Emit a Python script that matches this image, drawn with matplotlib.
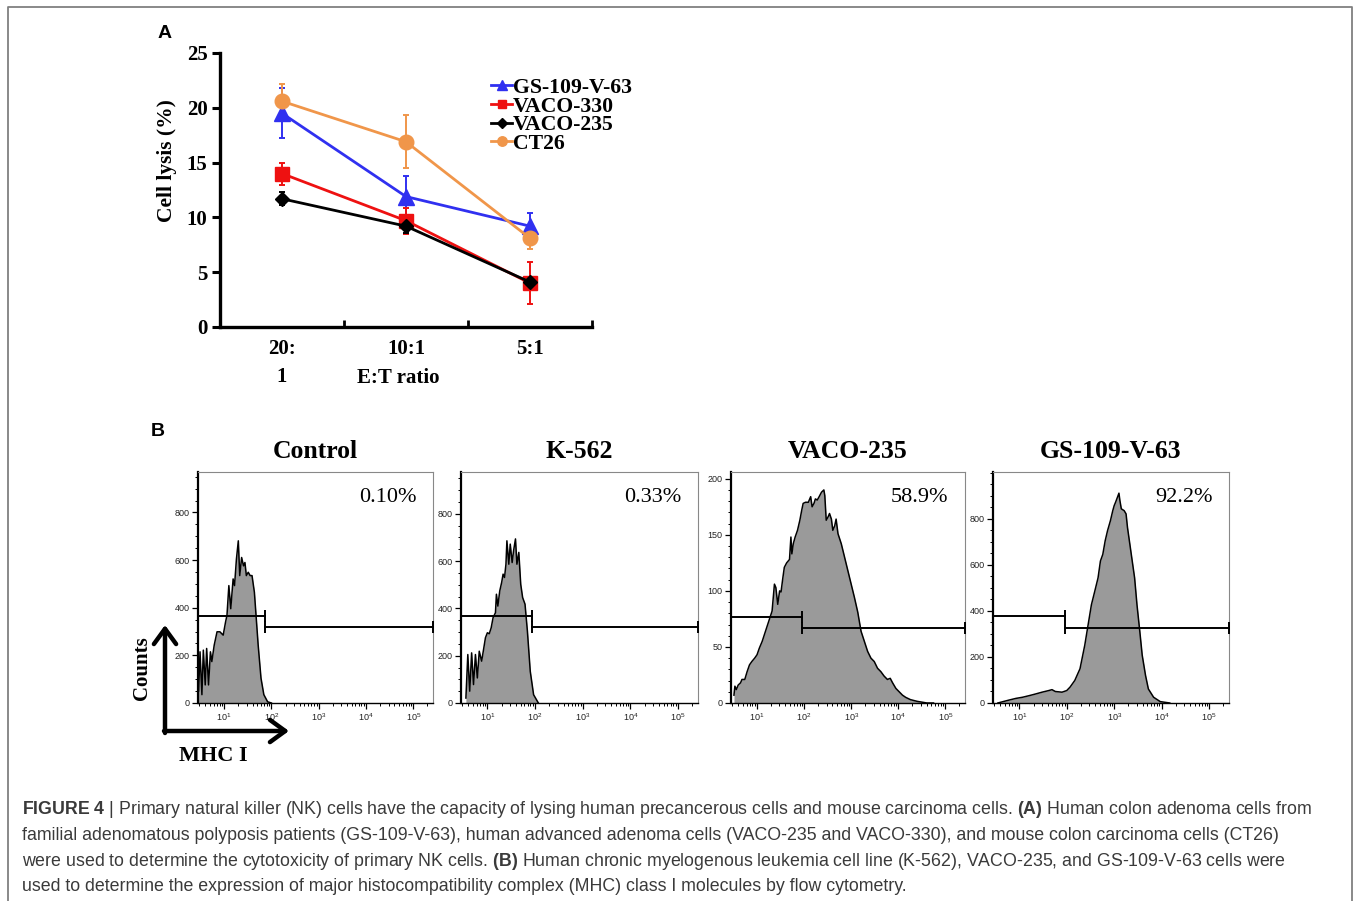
import matplotlib
matplotlib.use("Agg")
import matplotlib.pyplot as plt
import numpy as np
from matplotlib.ticker import FixedLocator, MultipleLocator, LogLocator, NullFormatter, FixedFormatter
from matplotlib.lines import Line2D
from matplotlib.patches import FancyArrowPatch

plt.rcParams['mathtext.fontset'] = 'custom'
plt.rcParams['mathtext.rm'] = 'Liberation Sans'
plt.rcParams['mathtext.bf'] = 'Liberation Sans:bold'
plt.rcParams['mathtext.it'] = 'Liberation Sans:italic'

SERIF = 'Liberation Serif'
SANS = 'Liberation Sans'

# ---------------- data: panel A ----------------
ratios = ['20:\n1', '10:1', '5:1']
series_names = ['GS-109-V-63', 'VACO-330', 'VACO-235', 'CT26']
gs_lysis = [19.5, 11.9, 9.2]
gs_err = [2.3, 1.9, 1.2]
vaco330_lysis = [14.0, 9.7, 4.0]
vaco330_err = [1.0, 1.2, 1.9]
vaco235_lysis = [11.7, 9.2, 4.1]
vaco235_err = [0.6, 0.6, 0.3]
ct26_lysis = [20.6, 16.9, 8.1]
ct26_err = [1.6, 2.4, 1.0]

# ---------------- data: panel B (log10 MHC I fluorescence, counts) ----------------
control_log = [0.38, 0.42, 0.46, 0.49, 0.53, 0.56, 0.60, 0.63, 0.67, 0.71, 0.74, 0.79, 0.85, 0.91,
               0.98, 1.03, 1.06, 1.10, 1.14, 1.19, 1.22, 1.26, 1.30, 1.33, 1.37, 1.41, 1.44, 1.47,
               1.51, 1.55, 1.59, 1.64, 1.67, 1.72, 1.78, 1.84, 1.92, 2.00]
control_counts = [21, 201, 49, 215, 35, 222, 76, 229, 76, 215, 174, 243, 299, 299,
                  285, 340, 368, 493, 396, 521, 493, 604, 681, 535, 611, 576, 590, 535,
                  549, 535, 535, 465, 382, 243, 104, 35, 5, 0]

k562_log = [0.55, 0.59, 0.63, 0.67, 0.71, 0.75, 0.79, 0.83, 0.88, 0.92, 0.96, 1.00, 1.04, 1.08,
            1.12, 1.17, 1.19, 1.22, 1.26, 1.30, 1.33, 1.36, 1.39, 1.41, 1.45, 1.48, 1.52, 1.55,
            1.59, 1.62, 1.66, 1.70, 1.74, 1.79, 1.84, 1.90, 1.97, 2.07]
k562_counts = [21, 205, 50, 212, 78, 205, 106, 219, 177, 226, 276, 297, 293, 318,
               361, 382, 460, 410, 474, 510, 545, 531, 587, 686, 587, 672, 594, 644,
               694, 587, 637, 502, 446, 418, 304, 134, 35, 0]

vaco_log = [0.51, 0.53, 0.56, 0.60, 0.65, 0.68, 0.74, 0.79, 0.84, 0.89, 0.95, 1.00, 1.05, 1.11,
            1.18, 1.25, 1.32, 1.37, 1.40, 1.44, 1.48, 1.51, 1.55, 1.58, 1.63, 1.67, 1.69, 1.72,
            1.74, 1.77, 1.81, 1.86, 1.91, 1.95, 1.98, 2.03, 2.09, 2.14, 2.17, 2.21, 2.24, 2.28,
            2.32, 2.37, 2.42, 2.44, 2.47, 2.51, 2.54, 2.58, 2.61, 2.65, 2.68, 2.72, 2.79, 2.86,
            2.93, 3.00, 3.07, 3.14, 3.21, 3.28, 3.35, 3.42, 3.49, 3.56, 3.63, 3.70, 3.77, 3.83,
            3.88, 3.95, 4.02, 4.09, 4.16, 4.26, 4.40, 4.61, 4.75]
vaco_counts = [7, 15, 12, 16, 18, 21, 21, 28, 34, 37, 40, 43, 49, 55,
               64, 73, 82, 106, 103, 88, 100, 99, 112, 121, 125, 127, 128, 148,
               133, 142, 148, 154, 163, 172, 178, 179, 179, 184, 175, 178, 182, 181,
               184, 188, 190, 185, 163, 166, 169, 164, 154, 158, 164, 151, 142, 130,
               118, 106, 94, 81, 64, 55, 46, 40, 37, 31, 28, 24, 21, 22,
               18, 13, 10, 7, 5, 3, 1.5, 0, 0]

gs_log = [0.55, 0.66, 0.79, 0.93, 1.07, 1.21, 1.34, 1.48, 1.62, 1.69, 1.76, 1.90, 2.00, 2.07,
          2.17, 2.28, 2.38, 2.45, 2.52, 2.59, 2.66, 2.71, 2.76, 2.81, 2.86, 2.92, 2.97, 3.00,
          3.03, 3.07, 3.10, 3.12, 3.15, 3.21, 3.25, 3.28, 3.33, 3.38, 3.43, 3.48, 3.54, 3.59,
          3.66, 3.72, 3.83, 3.97, 4.17]
gs_counts = [0, 6, 13, 20, 25, 32, 39, 47, 54, 58, 50, 47, 54, 69,
             98, 149, 251, 339, 427, 485, 544, 617, 646, 705, 749, 792, 836, 858,
             873, 895, 912, 880, 844, 836, 822, 763, 690, 617, 544, 427, 310, 208,
             120, 61, 25, 6, 0]

panel_titles = ['Control', 'K-562', 'VACO-235', 'GS-109-V-63']
percent_labels = ['0.10%', '0.33%', '58.9%', '92.2%']
gate_x = [74, 88, 90, 93]
gate_left_y = [367, 369, 77, 380]
gate_right_y = [320, 323, 67, 328]
y_tops = [970, 977, 206, 1004]
y_major = [200, 200, 50, 200]
y_minor = [50, 50, 10, 50]
y_tick_max = [800, 800, 200, 800]

caption_lines = [
    r"$\mathbf{FIGURE\ 4}$ | Primary natural killer (NK) cells have the capacity of lysing human precancerous cells and mouse carcinoma cells. $\mathbf{(A)}$ Human colon adenoma cells from",
    "familial adenomatous polyposis patients (GS-109-V-63), human advanced adenoma cells (VACO-235 and VACO-330), and mouse colon carcinoma cells (CT26)",
    r"were used to determine the cytotoxicity of primary NK cells. $\mathbf{(B)}$ Human chronic myelogenous leukemia cell line (K-562), VACO-235, and GS-109-V-63 cells were",
    "used to determine the expression of major histocompatibility complex (MHC) class I molecules by flow cytometry.",
]

# ---------------- figure ----------------
W, H = 1359, 901
fig = plt.figure(figsize=(W / 100, H / 100), dpi=100)


def add_ax(left, right, top, bottom):
    return fig.add_axes([left / W, 1 - bottom / H, (right - left) / W, (bottom - top) / H])


def fx(px):
    return px / W


def fy(py):
    return 1 - py / H


# outer frame (open at bottom)
fig.add_artist(Line2D([fx(8), fx(8), fx(1352), fx(1352)], [fy(901), fy(7), fy(7), fy(901)],
                      color='#808080', lw=1.3, transform=fig.transFigure))

# ---------------- Panel A ----------------
axA = add_ax(220, 592, 53, 327)
xpos = np.arange(len(ratios))
styles = [
    (gs_lysis, gs_err, '#3030f0', '^', 11),
    (vaco330_lysis, vaco330_err, '#ee1111', 's', 9.5),
    (vaco235_lysis, vaco235_err, '#000000', 'D', 7.5),
    (ct26_lysis, ct26_err, '#f0964a', 'o', 10.5),
]
for name, (vals, err, col, mk, ms) in zip(series_names, styles):
    axA.errorbar(xpos, vals, yerr=err, fmt='none', ecolor=col, elinewidth=1.4,
                 capsize=2.5, capthick=1.4, zorder=3)
    axA.plot(xpos, vals, color=col, marker=mk, ms=ms, lw=2.0, label=name, zorder=4)

axA.set_xlim(-0.5, 2.5)
axA.set_ylim(0, 25)
axA.spines['top'].set_visible(False)
axA.spines['right'].set_visible(False)
axA.spines['left'].set_linewidth(2.4)
axA.spines['bottom'].set_linewidth(2.4)
axA.set_yticks([0, 5, 10, 15, 20, 25])
axA.set_xticks(xpos)
axA.set_xticklabels(ratios, fontfamily=SERIF, fontweight='bold', fontsize=15, linespacing=1.5, va='top')
axA.set_xticks([0.5, 1.5, 2.5], minor=True)
axA.tick_params(axis='x', which='major', length=0, pad=9)
axA.tick_params(axis='x', which='minor', direction='in', length=5, width=2)
axA.tick_params(axis='y', direction='out', length=6, width=2.2, pad=3)
for lab in axA.get_yticklabels():
    lab.set_fontfamily(SERIF)
    lab.set_fontweight('bold')
    lab.set_fontsize(15)
fig.text(fx(167), fy(161), 'Cell lysis (%)', rotation=90, ha='center', va='center',
         fontfamily=SERIF, fontweight='bold', fontsize=15.5)
fig.text(fx(398), fy(378), 'E:T ratio', ha='center', va='center',
         fontfamily=SERIF, fontweight='bold', fontsize=15)
leg = axA.legend(loc='upper left', bbox_to_anchor=(0.70, 0.95), frameon=False,
                 prop=dict(family=SERIF, weight='bold', size=15.7), handlelength=0.95,
                 handletextpad=0.05, labelspacing=-0.07, borderpad=0, markerscale=0.65)
fig.text(fx(165), fy(33), 'A', ha='center', va='center', fontfamily=SANS, fontweight='bold', fontsize=14)

# ---------------- Panel B ----------------
fig.text(fx(158), fy(431), 'B', ha='center', va='center', fontfamily=SANS, fontweight='bold', fontsize=14)

rects = [(198, 433), (461, 698), (731, 965), (993, 1229)]
logs = [control_log, k562_log, vaco_log, gs_log]
counts = [control_counts, k562_counts, vaco_counts, gs_counts]
XL = (2.8, 2.62e5)
for i, (l, r) in enumerate(rects):
    ax = add_ax(l, r, 472, 703)
    x = 10 ** np.array(logs[i])
    y = np.array(counts[i], dtype=float)
    ax.fill_between(x, y, 0, color='#9a9a9a', lw=0, zorder=2)
    ax.plot(x, y, color='black', lw=1.1, zorder=3)
    ax.set_xscale('log')
    ax.set_xlim(*XL)
    ax.set_ylim(0, y_tops[i])
    ax.xaxis.set_major_locator(FixedLocator([1e1, 1e2, 1e3, 1e4, 1e5]))
    ax.xaxis.set_major_formatter(FixedFormatter([r'$10^{1}$', r'$10^{2}$', r'$10^{3}$', r'$10^{4}$', r'$10^{5}$']))
    ax.xaxis.set_minor_locator(LogLocator(base=10, subs=np.arange(2, 10)))
    ax.xaxis.set_minor_formatter(NullFormatter())
    ax.yaxis.set_major_locator(FixedLocator(np.arange(0, y_tick_max[i] + 1, y_major[i])))
    ax.yaxis.set_minor_locator(MultipleLocator(y_minor[i]))
    ax.tick_params(which='major', direction='out', length=4, width=0.9, labelsize=6.5,
                   labelcolor='#222222', pad=2)
    ax.tick_params(which='minor', direction='out', length=2.2, width=0.7)
    for lab in ax.get_yticklabels():
        lab.set_fontfamily(SANS)
    ax.spines['left'].set_linewidth(1.6)
    ax.spines['bottom'].set_linewidth(1.0)
    for s in ('top', 'right'):
        ax.spines[s].set_linewidth(0.8)
        ax.spines[s].set_color('#888888')
    gx = gate_x[i]
    ax.plot([XL[0], gx], [gate_left_y[i]] * 2, color='black', lw=1.4, zorder=4, clip_on=False)
    ax.plot([gx, XL[1]], [gate_right_y[i]] * 2, color='black', lw=1.4, zorder=4, clip_on=False)
    ax.plot([gx], [gate_left_y[i]], marker='|', ms=9, mew=1.4, color='black', zorder=4, clip_on=False)
    ax.plot([gx, XL[1]], [gate_right_y[i]] * 2, ls='none', marker='|', ms=9, mew=1.4,
            color='black', zorder=4, clip_on=False)
    ax.text(0.93, 0.89, percent_labels[i], transform=ax.transAxes, ha='right', va='center',
            fontfamily=SERIF, fontsize=16)
    ax.text(0.5, 1 + 21 / 231, panel_titles[i], transform=ax.transAxes, ha='center', va='center',
            fontfamily=SERIF, fontweight='bold', fontsize=18.5)

# Counts / MHC I arrows
arrow_kw = dict(arrowstyle='->,head_length=0.55,head_width=0.4', lw=3.2, color='black',
                transform=fig.transFigure, shrinkA=0, shrinkB=0, mutation_scale=20)
fig.add_artist(FancyArrowPatch((fx(165), fy(733)), (fx(165), fy(625)), **arrow_kw))
fig.add_artist(FancyArrowPatch((fx(164), fy(731)), (fx(289), fy(731)), **arrow_kw))
fig.text(fx(142), fy(668), 'Counts', rotation=90, ha='center', va='center',
         fontfamily=SERIF, fontweight='bold', fontsize=15)
fig.text(fx(213), fy(756), 'MHC I', ha='center', va='center',
         fontfamily=SERIF, fontweight='bold', fontsize=16)

# ---------------- caption ----------------
baselines = [814, 840, 866, 891]
for line, b in zip(caption_lines, baselines):
    fig.text(fx(22), fy(b), line, ha='left', va='baseline', fontfamily=SANS, fontsize=12.8,
             color='#3a3a3a')

fig.savefig('out.png', dpi=100)
